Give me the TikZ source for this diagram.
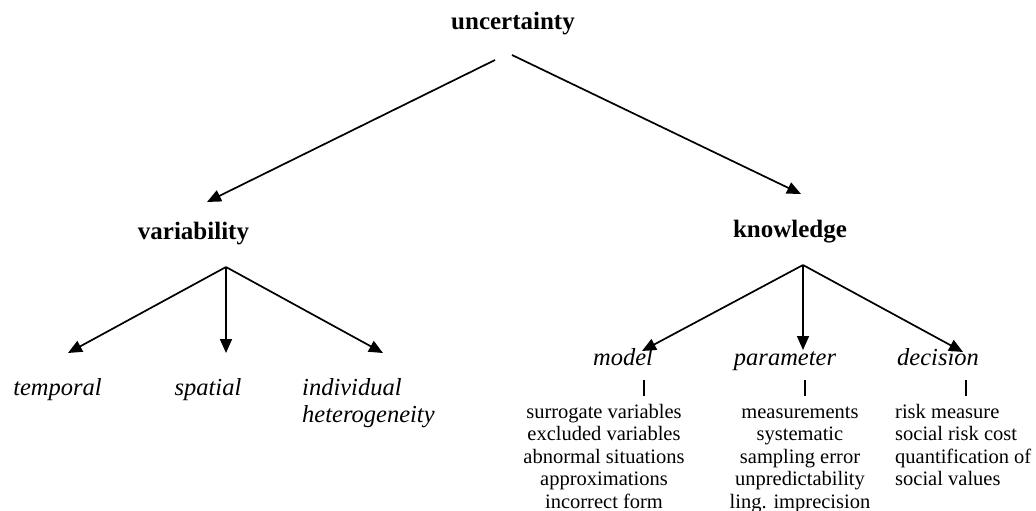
\documentclass[tikz,border=0pt]{standalone}
\usepackage{fontspec}
\setmainfont{Liberation Serif}
\usepackage{tikz}
\usetikzlibrary{arrows.meta}

\begin{document}
\begin{tikzpicture}[
  x=1pt, y=-1pt,
  head/.style={font=\fontsize{25}{30}\selectfont\bfseries, inner sep=0pt, anchor=base},
  leaf/.style={font=\fontsize{24.5}{27}\selectfont\itshape, inner sep=0pt, anchor=base},
  items/.style={font=\fontsize{20.5}{22.5}\selectfont, inner sep=0pt, align=center, anchor=base},
  arr/.style={-{Triangle[length=14pt,width=12pt]}, line width=1.7pt},
  tick/.style={line width=1.7pt}
]
\useasboundingbox (0,0) rectangle (1036,511);

% top
\node[head] (unc)  at (513,30)   {uncertainty};
\node[head] (var)  at (193.5,239){variability};
\node[head] (know) at (790,237)  {knowledge};
\coordinate (u-l) at (495,60);
\coordinate (u-r) at (512,55);
\coordinate (var-tip)  at (207,202);
\coordinate (know-tip) at (801,194);
\draw[arr] (u-l) -- (var-tip);
\draw[arr] (u-r) -- (know-tip);

% variability branch
\coordinate (vfork) at (226,267);
\node[leaf] (temp) at (57.5,395) {temporal};
\node[leaf] (spat) at (208,395)  {spatial};
\node[leaf, align=left, anchor=base west] (indiv) at (302,422) {individual\\heterogeneity};
\coordinate (temp-tip)  at (68,353);
\coordinate (spat-tip)  at (226,353);
\coordinate (indiv-tip) at (383,353);
\draw[arr] (vfork) -- (temp-tip);
\draw[arr] (vfork) -- (spat-tip);
\draw[arr] (vfork) -- (indiv-tip);

% knowledge branch
\coordinate (kfork) at (803,265);
\node[leaf] (mdl) at (623,365) {model};
\node[leaf] (par) at (785,365) {parameter};
\node[leaf] (dec) at (938,365) {decision};
\coordinate (mdl-tip) at (642,351);
\coordinate (par-tip) at (803,350);
\coordinate (dec-tip) at (963,352);
\draw[arr] (kfork) -- (mdl-tip);
\draw[arr] (kfork) -- (par-tip);
\draw[arr] (kfork) -- (dec-tip);

% sources (base = last line)
\node[items] (mlist) at (604,508) {surrogate variables\\excluded variables\\abnormal situations\\approximations\\incorrect form};
\node[items] (plist) at (800,508) {measurements\\systematic\\sampling error\\unpredictability\\ling. imprecision};
\node[items, align=left, anchor=base west] (dlist) at (895,485.5) {risk measure\\social risk cost\\quantification of\\social values};
\draw[tick] (644,380) -- (644,396);
\draw[tick] (805,380) -- (805,396);
\draw[tick] (966,380) -- (966,396);
\end{tikzpicture}
\end{document}
